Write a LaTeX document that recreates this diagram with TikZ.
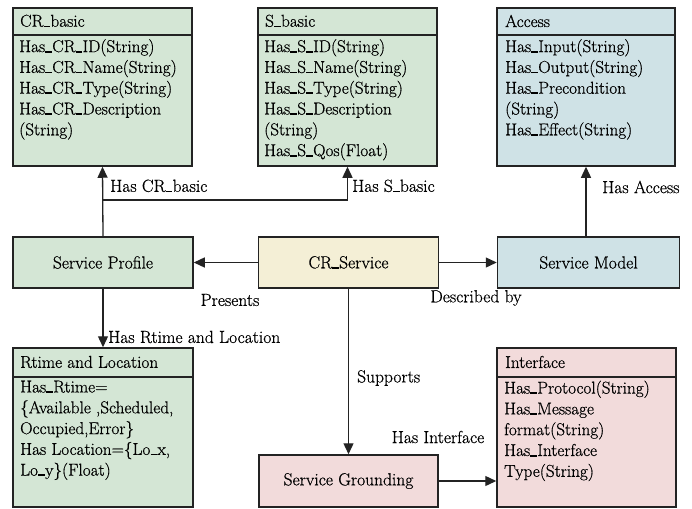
\documentclass[tikz,border=0pt]{standalone}
\usepackage{fontspec}
\setmainfont{Latin Modern Roman}[FakeBold=0.6]
\usetikzlibrary{arrows.meta}
\definecolor{cgreen}{RGB}{212,230,213}
\definecolor{cyellow}{RGB}{244,239,214}
\definecolor{cblue}{RGB}{207,226,230}
\definecolor{cpink}{RGB}{242,219,219}
\definecolor{cline}{RGB}{35,35,35}
\newcommand{\us}{\kern0.3pt\rule[-0.6pt]{6.5pt}{1.8pt}\kern0.3pt}
\begin{document}
\begin{tikzpicture}[x=1pt,y=-1pt,
  box/.style={draw=cline, line width=1.5pt, inner sep=0pt},
  hdr/.style={anchor=west, inner sep=0pt, font=\fontsize{17.2}{20.5}\selectfont},
  body/.style={anchor=north west, inner sep=0pt, align=left, font=\fontsize{17.2}{20.8}\selectfont},
  lbl/.style={inner sep=0pt, font=\fontsize{17.5}{20.5}\selectfont},
  conn/.style={draw=cline, line width=1.3pt},
  arr/.style={conn, -{Triangle[length=11pt,width=10pt]}}]
\useasboundingbox (0,0) rectangle (692,508);

% top class boxes
\node[box, fill=cgreen, minimum width=179pt, minimum height=158pt] (crb) at (102.5,87) {};
\draw[conn, line width=1.5pt] (13,35) -- (192,35);
\node[hdr] (crbh) at (20,21) {CR\us basic};
\node[body] (crbb) at (19,39) {Has\us CR\us ID(String)\\Has\us CR\us Name(String)\\Has\us CR\us Type(String)\\Has\us CR\us Description\\(String)};

\node[box, fill=cgreen, minimum width=179pt, minimum height=158pt] (sb) at (347.5,87) {};
\draw[conn, line width=1.5pt] (258,35) -- (437,35);
\node[hdr] (sbh) at (265,21) {S\us basic};
\node[body] (sbb) at (264,39) {Has\us S\us ID(String)\\Has\us S\us Name(String)\\Has\us S\us Type(String)\\Has\us S\us Description\\(String)\\Has\us S\us Qos(Float)};

\node[box, fill=cblue, minimum width=178pt, minimum height=158pt] (acc) at (586,87) {};
\draw[conn, line width=1.5pt] (497,35) -- (675,35);
\node[hdr] (acch) at (505,21) {Access};
\node[body] (accb) at (505,39) {Has\us Input(String)\\Has\us Output(String)\\Has\us Precondition\\(String)\\Has\us Effect(String)};

% middle row
\node[box, fill=cgreen, minimum width=180pt, minimum height=51pt, font=\fontsize{17.5}{20.5}\selectfont] (sp) at (103,262.5) {Service Profile};
\node[box, fill=cyellow, minimum width=180pt, minimum height=51pt, font=\fontsize{17.5}{20.5}\selectfont] (crs) at (348.5,262.5) {CR\us Service};
\node[box, fill=cblue, minimum width=182pt, minimum height=51pt, font=\fontsize{17.5}{20.5}\selectfont] (sm) at (588.5,262.5) {Service Model};

% bottom row
\node[box, fill=cgreen, minimum width=180pt, minimum height=159pt] (rt) at (103,427.5) {};
\draw[conn, line width=1.5pt] (13,377) -- (193,377);
\node[hdr] (rth) at (20,362) {Rtime and Location};
\node[body] (rtb) at (20,380.5) {Has\us Rtime=\\\{Available ,Scheduled,\\Occupied,Error\}\\Has Location=\{Lo\us x,\\Lo\us y\}(Float)};

\node[box, fill=cpink, minimum width=179pt, minimum height=52pt, font=\fontsize{17.5}{20.5}\selectfont] (sg) at (348.5,481) {Service Grounding};

\node[box, fill=cpink, minimum width=179pt, minimum height=159pt] (intf) at (586.5,427.5) {};
\draw[conn, line width=1.5pt] (497,377) -- (676,377);
\node[hdr] (intfh) at (505,362) {Interface};
\node[body] (intfb) at (504,380.5) {Has\us Protocol(String)\\Has\us Message\\format(String)\\Has\us Interface\\Type(String)};

% connectors
\draw[arr] (crs.west) -- (sp.east);
\draw[arr] (crs.east) -- (sm.west);
\draw[arr] (crs.south) -- (sg.north);
\draw[arr] (sg.east) -- (sg.east -| intf.west);
\draw[arr] (sp.south) -- (rt.north);
\draw[arr] (sp.north) -- (crb.south);
\coordinate (j) at (103,200);
\draw[arr] (j) -| (sb.south);
\draw[arr] (acc.south |- sm.north) -- (acc.south);

% labels
\node[lbl, anchor=west] (l1) at (110,186) {Has CR\us basic};
\node[lbl, anchor=west] (l2) at (352,186) {Has S\us basic};
\node[lbl, anchor=west] (l3) at (602,187) {Has Access};
\node[lbl] (l4) at (230,300) {Presents};
\node[lbl] (l5) at (476,298) {Described by};
\node[lbl, anchor=west] (l6) at (108,337) {Has Rtime and Location};
\node[lbl, anchor=west] (l7) at (357,378) {Supports};
\node[lbl] (l8) at (438,437) {Has Interface};
\end{tikzpicture}
\end{document}
